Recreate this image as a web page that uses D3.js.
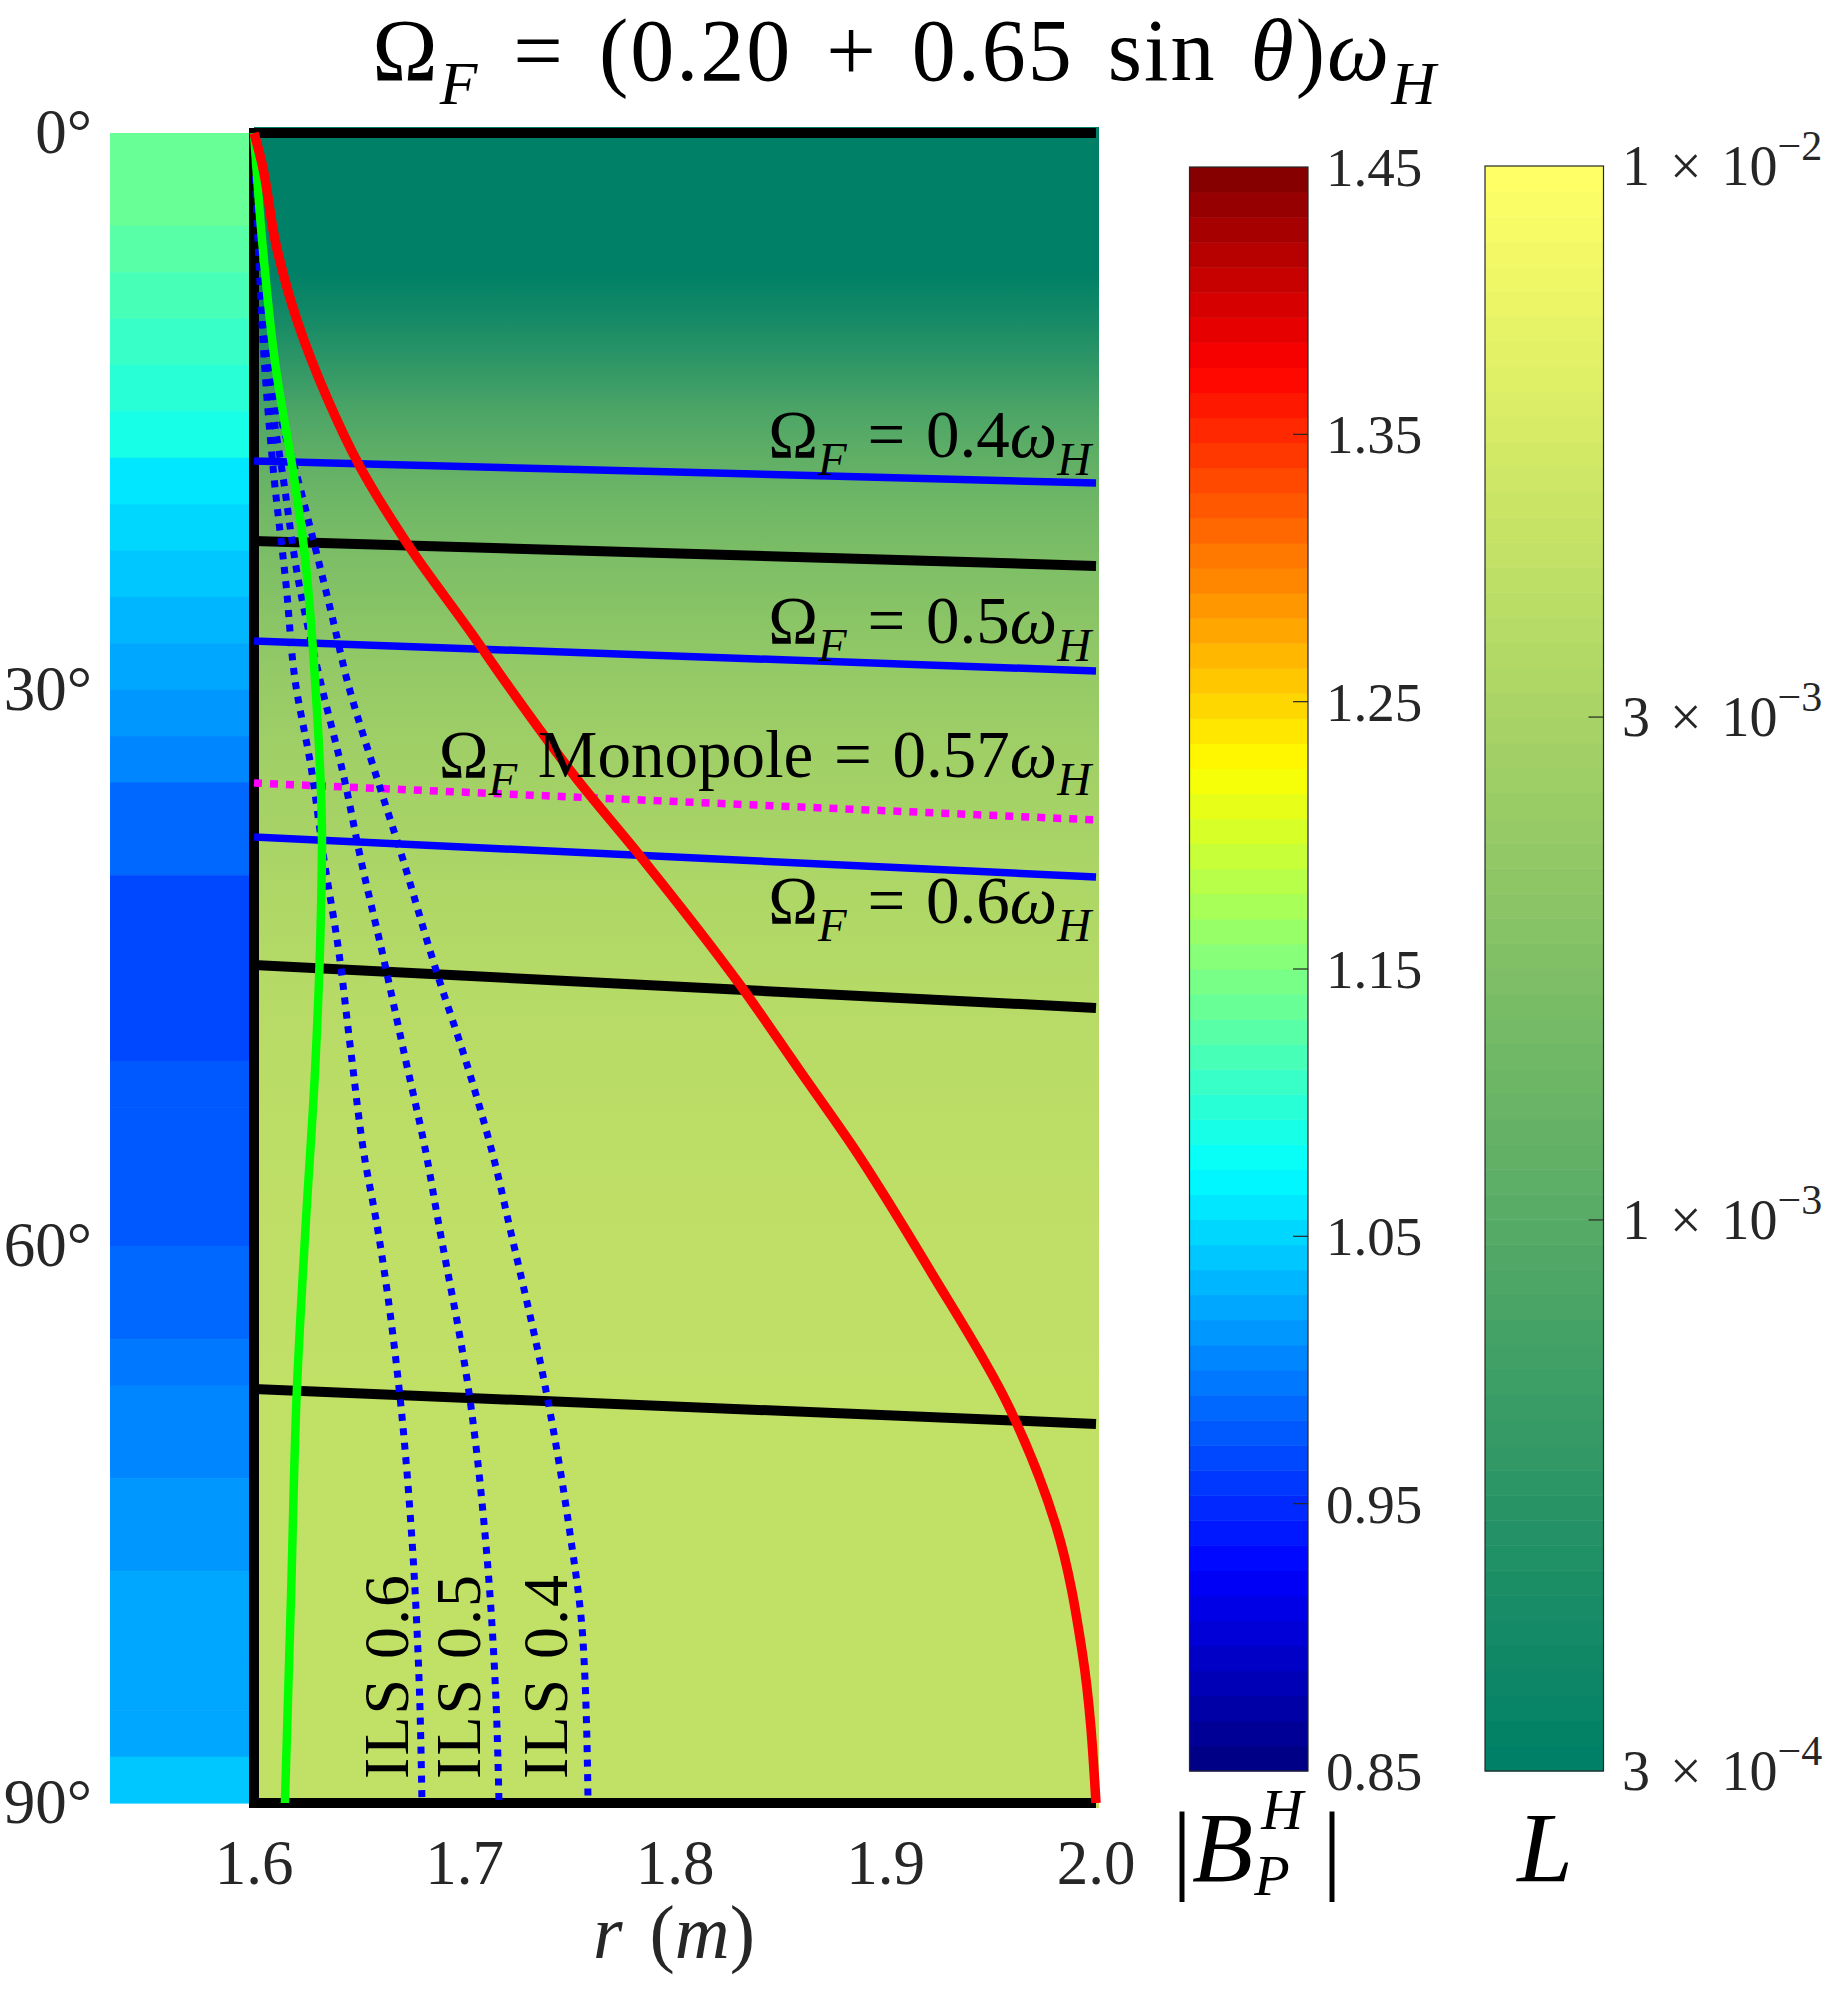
<!DOCTYPE html>
<html><head><meta charset="utf-8">
<script src="https://cdn.jsdelivr.net/npm/d3@7"></script>
<style>body{margin:0;background:#fff;} svg{display:block;} text{font-family:"Liberation Serif","Times New Roman",serif;}</style>
</head><body><svg id="chart" width="1825" height="1994"></svg>
<script>
// ---------------- DATA ----------------
const rTicks = [1.6, 1.7, 1.8, 1.9, 2.0];
const rTickLabels = ["1.6", "1.7", "1.8", "1.9", "2.0"];
const thetaTicks = [0, 30, 60, 90];
const thetaTickLabels = ["0°", "30°", "60°", "90°"];
const bpTicks = [0.85, 0.95, 1.05, 1.15, 1.25, 1.35, 1.45];
const bpTickLabels = ["0.85", "0.95", "1.05", "1.15", "1.25", "1.35", "1.45"];
const lTicks = [3e-4, 1e-3, 3e-3, 1e-2];
const lTickMant = ["3", "1", "3", "1"];
const lTickExp = ["−4", "−3", "−3", "−2"];

// background L(theta)
const bgTheta = [0,2.5,5,7.5,10,12.5,15,17.5,20,22.5,25,27.5,30,32.5,35,37.5,40,42.5,45,47.5,50,52.5,55,57.5,60,62.5,65,67.5,70,72.5,75,77.5,80,82.5,85,87.5,90];
const bgL = [2.0e-4,2.0e-4,2.2e-4,3.0e-4,4.0e-4,5.8e-4,8.5e-4,1.12e-3,1.38e-3,1.63e-3,1.88e-3,2.15e-3,2.4e-3,2.62e-3,2.82e-3,3.0e-3,3.2e-3,3.38e-3,3.55e-3,3.7e-3,3.83e-3,3.93e-3,4.02e-3,4.08e-3,4.13e-3,4.17e-3,4.2e-3,4.22e-3,4.23e-3,4.24e-3,4.25e-3,4.25e-3,4.25e-3,4.25e-3,4.25e-3,4.25e-3,4.25e-3];

// horizon strip |B_P^H| cells (theta start, width 2.5 deg)
const stripRange = [1.5316, 1.5981];
const stripTheta = [0,2.5,5,7.5,10,12.5,15,17.5,20,22.5,25,27.5,30,32.5,35,37.5,40,42.5,45,47.5,50,52.5,55,57.5,60,62.5,65,67.5,70,72.5,75,77.5,80,82.5,85,87.5];
const stripB = [1.136,1.136,1.127,1.117,1.112,1.098,1.085,1.065,1.055,1.042,1.030,1.020,1.010,1.000,0.990,0.983,0.968,0.967,0.967,0.970,0.975,0.976,0.976,0.978,0.985,0.988,0.995,1.002,1.006,1.013,1.016,1.021,1.024,1.025,1.027,1.038];

// outer light surface (red)
const olsR = [1.6,1.6035,1.6105,1.6204,1.6356,1.6494,1.6732,1.7036,1.7188,1.7530,1.7834,1.8309,1.8594,1.8840,1.9216,1.9582,1.9810,1.9935,2.0];
const olsTheta = [0,1.5,6.04,10.08,14.50,17.78,22.20,27.00,29.48,34.76,38.96,45.91,50.55,54.54,61.38,68.55,75.07,81.91,90];

// inner light surface (green)
const ilsR = [1.6,1.6033,1.6105,1.6190,1.6238,1.6290,1.6323,1.6314,1.6290,1.6247,1.6204,1.6176,1.6147];
const ilsTheta = [0,5.07,12.77,18.54,22.42,29.48,38.05,43.81,50.55,58.58,67.63,78.8,90];

// ILS for constant Omega_F (blue dotted)
const ils06R = [1.6,1.6020,1.6052,1.6095,1.6152,1.6195,1.6271,1.6333,1.6399,1.6461,1.6527,1.6580,1.6689,1.6746,1.6784,1.6798];
const ils06Theta = [0,6,12.8,18.54,24.30,29.48,34.17,39.18,43.81,49.58,55.34,58.58,67.63,75.07,83.31,90];
const ils05R = [1.6,1.6022,1.6062,1.6138,1.6214,1.6314,1.6428,1.6508,1.6613,1.6713,1.6817,1.6874,1.7021,1.7102,1.7145,1.7164];
const ils05Theta = [0,6,12.8,18.54,24.3,29.48,34.76,39.18,44.35,49.58,54.97,58.58,67.85,76.09,83.31,90];
const ils04R = [1.6,1.6025,1.6076,1.6228,1.6375,1.6442,1.6584,1.6698,1.6860,1.7021,1.7154,1.7207,1.7392,1.7496,1.7563,1.7587];
const ils04Theta = [0,6,12.8,19.51,26.24,29.48,34.76,38.80,44.94,50.55,55.94,58.58,68.06,75.07,81.27,90];

// field lines (black), theta at r = 1.6 and r = 2.0
const fieldR = [1.6, 2.0];
const field1Theta = [21.99, 23.33];
const field2Theta = [44.84, 47.15];
const field3Theta = [67.69, 69.57];

// Omega_F contours (blue solid) and monopole (magenta dotted)
const omega04Theta = [17.68, 18.86];
const omega05Theta = [27.38, 28.99];
const omega06Theta = [37.94, 40.10];
const monoTheta = [35.03, 37.02];

// annotation anchors (data coords)
const omegaLabelTheta = [17.46, 27.48, 34.7, 42.57];
const ilsLabelR = [1.6732, 1.7074, 1.7487];
const ilsLabelTheta = 88.7;

// ---------------- DRAW ----------------
const svg = d3.select("#chart");
const x = d3.scaleLinear().domain([1.6, 2.0]).range([254, 1096]);
const y = d3.scaleLinear().domain([0, 90]).range([133, 1803]);
const cbB = d3.scaleLinear().domain([0.85, 1.45]).range([1771, 167]);
const cbL = d3.scaleLog().domain([3e-4, 1e-2]).range([1771, 166]);

const clamp = v => Math.max(0, Math.min(1, v));
function jet(t){ return d3.rgb(255*clamp(1.5-Math.abs(4*t-3)), 255*clamp(1.5-Math.abs(4*t-2)), 255*clamp(1.5-Math.abs(4*t-1))); }
function jetQ(v){ let i = Math.floor((v-0.85)/0.6*64); i = Math.max(0, Math.min(63, i)); return jet((i+0.5)/64).toString(); }
const lLog = d3.scaleLog().domain([3e-4, 1e-2]).range([0, 1]);
function summer(t){ t = clamp(t); return d3.rgb(255*t, 255*(0.5+t/2), 102); }
function summerQ(i){ return summer(i/63).toString(); }

// background gradient
const defs = svg.append("defs");
const grad = defs.append("linearGradient").attr("id","bg").attr("gradientUnits","userSpaceOnUse")
  .attr("x1",0).attr("x2",0).attr("y1",y(0)).attr("y2",y(90));
bgTheta.forEach((t,i)=>{
  grad.append("stop").attr("offset", (t/90)).attr("stop-color", summer(lLog(bgL[i])).toString());
});
svg.append("rect").attr("x", x(1.6)).attr("y", y(0)-6).attr("width", x(2.0)-x(1.6)+3).attr("height", y(90)-y(0)+11).attr("fill","url(#bg)");

// horizon strip
svg.append("g").selectAll("rect").data(stripTheta).join("rect")
  .attr("x", x(stripRange[0])).attr("width", x(stripRange[1])-x(stripRange[0]))
  .attr("y", d=>y(d)).attr("height", d=>y(d+2.5)-y(d)+0.6)
  .attr("fill", (d,i)=>jetQ(stripB[i]));

const line = d3.line().x(d=>x(d[0])).y(d=>y(d[1]));
const curve = d3.line().x(d=>x(d[0])).y(d=>y(d[1])).curve(d3.curveMonotoneY);
const zip = (a,b)=>a.map((v,i)=>[v,b[i]]);

const gLines = svg.append("g").attr("fill","none");
[[fieldR,[0,0]],[fieldR,field1Theta],[fieldR,field2Theta],[fieldR,field3Theta],[fieldR,[90,90]]].forEach(([r,t])=>{
  gLines.append("path").attr("d", line(zip(r,t))).attr("stroke","#000").attr("stroke-width",10);
});
gLines.append("path").attr("d", line([[1.6,0],[1.6,90]])).attr("stroke","#000").attr("stroke-width",10).attr("stroke-linecap","square");
[omega04Theta, omega05Theta, omega06Theta].forEach(t=>{
  gLines.append("path").attr("d", line(zip(fieldR,t))).attr("stroke","#0000ff").attr("stroke-width",7.5);
});
gLines.append("path").attr("d", line(zip(fieldR,monoTheta))).attr("stroke","#ff00ff").attr("stroke-width",7.5).attr("stroke-dasharray","8 8");
[[ils06R,ils06Theta],[ils05R,ils05Theta],[ils04R,ils04Theta]].forEach(([r,t])=>{
  gLines.append("path").attr("d", curve(zip(r,t))).attr("stroke","#0000ff").attr("stroke-width",7).attr("stroke-dasharray","7 7.5");
});
gLines.append("path").attr("d", curve(zip(ilsR,ilsTheta))).attr("stroke","#00ff00").attr("stroke-width",8.5);
gLines.append("path").attr("d", curve(zip(olsR,olsTheta))).attr("stroke","#ff0000").attr("stroke-width",9.5);

// math text helper
function mtext(parent, px, py, size, anchor, parts, fill, ws, ls){
  const t = parent.append("text").attr("x",px).attr("y",py).attr("font-size",size)
    .attr("text-anchor",anchor).attr("fill", fill||"#000");
  if (ws) t.attr("word-spacing", ws);
  if (ls) t.attr("letter-spacing", ls);
  let shift = 0;
  parts.forEach(p=>{
    const fs = (p.sub||p.sup) ? size*(p.sup?0.75:0.7) : size;
    const target = p.sub ? size*0.27 : (p.sup ? -size*0.45 : 0);
    const ts = t.append("tspan").text(p.t).attr("font-size", fs).attr("dy", target-shift);
    if (p.it) ts.attr("font-style","italic");
    shift = target;
  });
  return t;
}

// title
mtext(svg, 905, 80, 88, "middle", [
  {t:"Ω"},{t:"F",it:1,sub:1},{t:" = (0.20 + 0.65 sin "},{t:"θ",it:1},{t:")"},{t:"ω",it:1},{t:"H",it:1,sub:1}
], "#000", 10, 2);

// in-plot labels
const omegaLabels = [
  [{t:"Ω"},{t:"F",it:1,sub:1},{t:" = 0.4"},{t:"ω",it:1},{t:"H",it:1,sub:1}],
  [{t:"Ω"},{t:"F",it:1,sub:1},{t:" = 0.5"},{t:"ω",it:1},{t:"H",it:1,sub:1}],
  [{t:"Ω"},{t:"F",it:1,sub:1},{t:" Monopole = 0.57"},{t:"ω",it:1},{t:"H",it:1,sub:1}],
  [{t:"Ω"},{t:"F",it:1,sub:1},{t:" = 0.6"},{t:"ω",it:1},{t:"H",it:1,sub:1}]
];
omegaLabels.forEach((parts,i)=>{
  mtext(svg, x(2.0)-5, y(omegaLabelTheta[i]), 67, "end", parts, "#000", 4, 0);
});
const ilsNames = ["ILS 0.6","ILS 0.5","ILS 0.4"];
ilsNames.forEach((s,i)=>{
  svg.append("text").attr("transform",`translate(${x(ilsLabelR[i])},${y(ilsLabelTheta)}) rotate(-90)`)
    .attr("font-size",64).attr("letter-spacing",2).attr("fill","#000").text(s);
});

// axes tick labels
const tickCol = "#262626";
svg.append("g").selectAll("text").data(rTicks).join("text")
  .attr("x", d=>x(d)).attr("y", 1884).attr("text-anchor","middle").attr("font-size",63).attr("fill",tickCol)
  .text((d,i)=>rTickLabels[i]);
svg.append("g").selectAll("text").data(thetaTicks).join("text")
  .attr("x", 92).attr("y", d=>y(d)+20).attr("text-anchor","end").attr("font-size",63).attr("fill",tickCol)
  .text((d,i)=>thetaTickLabels[i]);
mtext(svg, 674, 1958, 76, "middle", [{t:"r",it:1},{t:" ("},{t:"m",it:1},{t:")"}], tickCol, 8, 0);

// colorbar |B_P^H|
const cb1x0 = 1189.5, cb1x1 = 1308;
const cb1 = svg.append("g");
d3.range(64).forEach(i=>{
  const v0 = 0.85 + i*0.6/64, v1 = 0.85 + (i+1)*0.6/64;
  cb1.append("rect").attr("x",cb1x0).attr("width",cb1x1-cb1x0).attr("y",cbB(v1)).attr("height",cbB(v0)-cbB(v1)+0.5)
    .attr("fill", jet((i+0.5)/64).toString());
});
cb1.append("rect").attr("x",cb1x0).attr("y",cbB(1.45)).attr("width",cb1x1-cb1x0).attr("height",cbB(0.85)-cbB(1.45))
  .attr("fill","none").attr("stroke","#262626").attr("stroke-width",1.2);
cb1.selectAll("line").data(bpTicks.slice(1,-1)).join("line")
  .attr("x1",cb1x1-15).attr("x2",cb1x1).attr("y1",d=>cbB(d)).attr("y2",d=>cbB(d)).attr("stroke","#262626").attr("stroke-width",1.2);
cb1.selectAll("text").data(bpTicks).join("text")
  .attr("x",1326).attr("y",d=>cbB(d)+19).attr("font-size",55).attr("fill",tickCol).text((d,i)=>bpTickLabels[i]);

// colorbar L
const cb2x0 = 1485, cb2x1 = 1603.5;
const cb2 = svg.append("g");
const lgMin = Math.log10(3e-4), lgMax = -2;
d3.range(64).forEach(i=>{
  const v0 = Math.pow(10, lgMin + i*(lgMax-lgMin)/64), v1 = Math.pow(10, lgMin + (i+1)*(lgMax-lgMin)/64);
  cb2.append("rect").attr("x",cb2x0).attr("width",cb2x1-cb2x0).attr("y",cbL(v1)).attr("height",cbL(v0)-cbL(v1)+0.5)
    .attr("fill", summerQ(i));
});
cb2.append("rect").attr("x",cb2x0).attr("y",cbL(1e-2)).attr("width",cb2x1-cb2x0).attr("height",cbL(3e-4)-cbL(1e-2))
  .attr("fill","none").attr("stroke","#262626").attr("stroke-width",1.2);
cb2.selectAll("line").data(lTicks.slice(1,-1)).join("line")
  .attr("x1",cb2x1-15).attr("x2",cb2x1).attr("y1",d=>cbL(d)).attr("y2",d=>cbL(d)).attr("stroke","#262626").attr("stroke-width",1.2);
lTicks.forEach((d,i)=>{
  mtext(svg, 1622, cbL(d)+19, 56, "start", [{t:lTickMant[i]+" × 10"},{t:lTickExp[i],sup:1}], tickCol, 6, 0);
});

// colorbar titles
const bt = svg.append("text").attr("x",1172).attr("y",1881).attr("font-size",100).attr("fill","#000");
bt.append("tspan").text("|");
bt.append("tspan").text("B").attr("font-style","italic");
const bw = bt.node().getComputedTextLength();
bt.append("tspan").attr("x",1172+bw+8).attr("dy",-52).attr("font-size",58).attr("font-style","italic").text("H");
bt.append("tspan").attr("x",1172+bw+1).attr("dy",66).attr("font-size",58).attr("font-style","italic").text("P");
bt.append("tspan").attr("x",1322).attr("dy",-14).text("|");
svg.append("text").attr("x",1545).attr("y",1881).attr("font-size",100).attr("font-style","italic").attr("text-anchor","middle").text("L");
</script></body></html>
